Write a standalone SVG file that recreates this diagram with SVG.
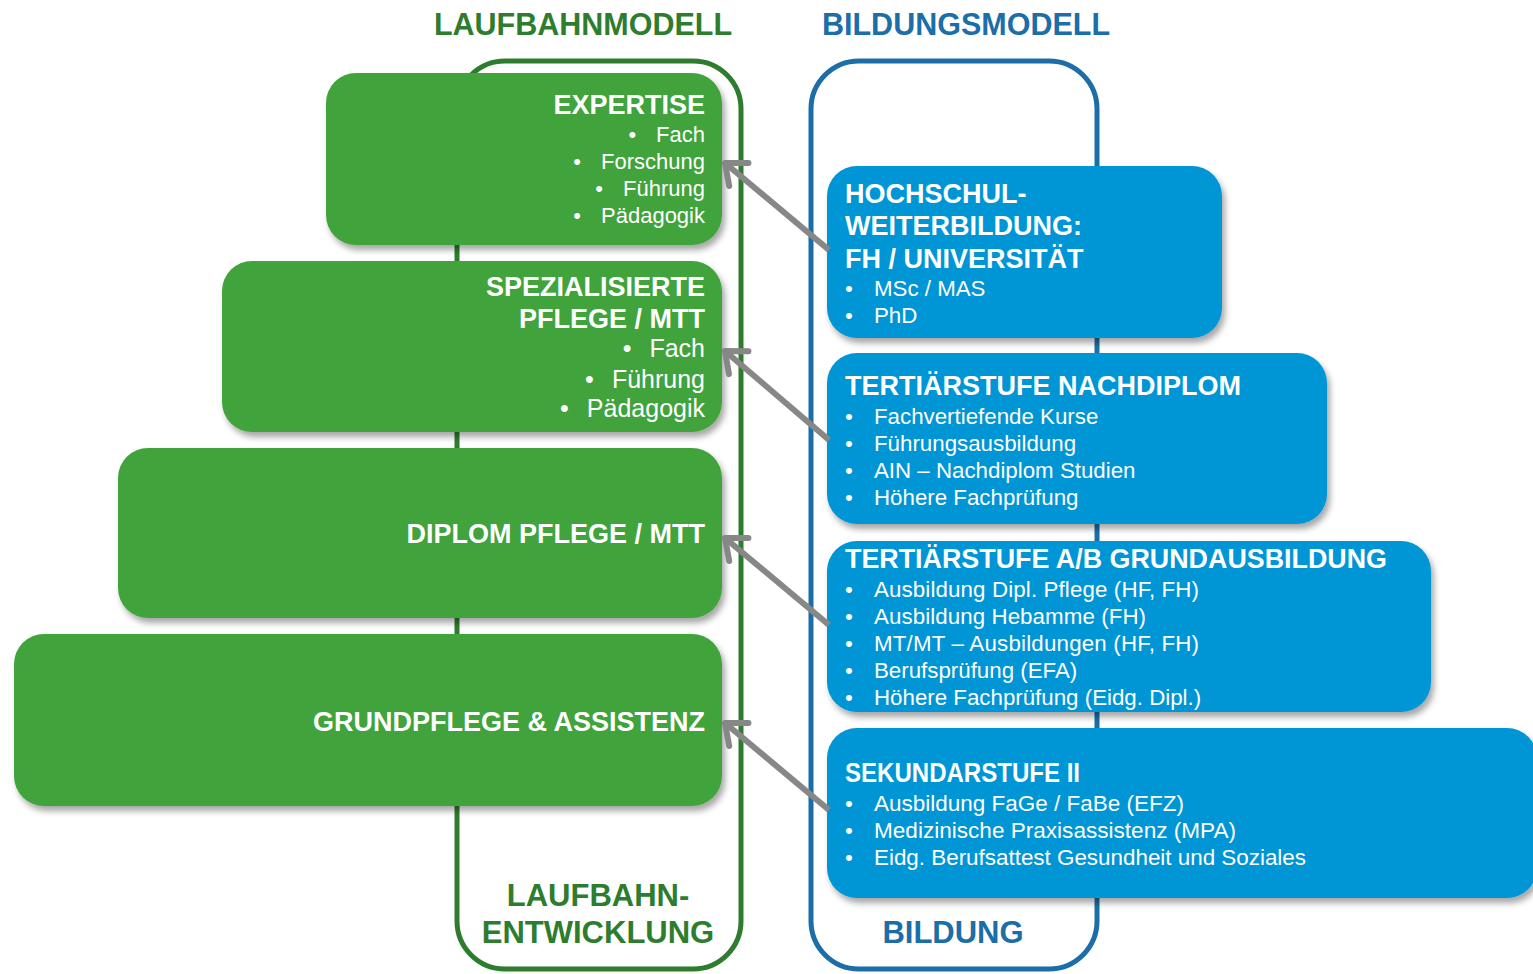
<svg xmlns="http://www.w3.org/2000/svg" width="1533" height="974" viewBox="0 0 1533 974">
<defs>
<filter id="sh" x="-10%" y="-10%" width="130%" height="140%">
<feDropShadow dx="3" dy="5" stdDeviation="3" flood-color="#000" flood-opacity="0.35"/>
</filter>
<marker id="ah" markerUnits="userSpaceOnUse" markerWidth="40" markerHeight="40" refX="30" refY="20" orient="auto" viewBox="0 0 40 40">
<path d="M12,5 L30,20 L12,35" fill="none" stroke="#878787" stroke-width="6" stroke-linecap="round" stroke-linejoin="round"/>
</marker>
</defs>
<style>
.t{font-family:"Liberation Sans",Arial,sans-serif}
.b{font-weight:bold}
.gt{fill:#2E7D2E}
.bt{fill:#1B6EA8}
.w{fill:#fff}
.gb{fill:#41A33A;filter:url(#sh)}
.bb{fill:#0095D5;filter:url(#sh)}
.h{font-size:27px;font-weight:bold}
.i{font-size:22px}
.j{font-size:22.3px}
.c{stroke:#878787;stroke-width:6;fill:none}
</style>
<rect width="1533" height="974" fill="#fff"/>
<g id="titles" class="t b" font-size="30.5" text-anchor="middle">
<text x="583" y="35" class="gt">LAUFBAHNMODELL</text>
<text x="966" y="35" class="bt">BILDUNGSMODELL</text>
</g>
<g id="frame-laufbahn">
<rect x="457" y="61" width="284" height="908" rx="48" fill="none" stroke="#2E7D2E" stroke-width="5"/>
<text class="t b gt" font-size="31" text-anchor="middle"><tspan x="598" y="906">LAUFBAHN-</tspan><tspan x="598" y="943">ENTWICKLUNG</tspan></text>
</g>
<g id="frame-bildung">
<rect x="811" y="61" width="286" height="908" rx="48" fill="none" stroke="#1B6EA8" stroke-width="5"/>
<text class="t b bt" font-size="31" text-anchor="middle" x="953" y="943">BILDUNG</text>
</g>
<g id="expertise">
<rect class="gb" x="326" y="73" width="396" height="172" rx="30"/>
<g class="t w" text-anchor="end">
<text class="h" x="705" y="114">EXPERTISE</text>
<text class="i" x="705" y="142">•<tspan dx="20">Fach</tspan></text>
<text class="i" x="705" y="169">•<tspan dx="20">Forschung</tspan></text>
<text class="i" x="705" y="196">•<tspan dx="20">Führung</tspan></text>
<text class="i" x="705" y="223">•<tspan dx="20">Pädagogik</tspan></text>
</g>
</g>
<g id="spezialisierte">
<rect class="gb" x="222" y="261" width="500" height="171" rx="30"/>
<g class="t w" text-anchor="end">
<text class="h" x="705" y="296">SPEZIALISIERTE</text>
<text class="h" x="705" y="328">PFLEGE / MTT</text>
<text x="705" y="357" font-size="25">•<tspan dx="18">Fach</tspan></text>
<text x="705" y="388" font-size="25">•<tspan dx="18">Führung</tspan></text>
<text x="705" y="417" font-size="25">•<tspan dx="18">Pädagogik</tspan></text>
</g>
</g>
<g id="diplom">
<rect class="gb" x="118" y="448" width="604" height="170" rx="30"/>
<text class="t w h" text-anchor="end" x="705" y="543">DIPLOM PFLEGE / MTT</text>
</g>
<g id="grundpflege">
<rect class="gb" x="14" y="634" width="708" height="172" rx="30"/>
<text class="t w h" text-anchor="end" x="705" y="731">GRUNDPFLEGE &amp; ASSISTENZ</text>
</g>
<g id="hochschul">
<rect class="bb" x="827" y="166" width="395" height="172" rx="30"/>
<g class="t w">
<text class="h" x="845" y="203">HOCHSCHUL-</text>
<text class="h" x="845" y="235">WEITERBILDUNG:</text>
<text class="h" x="845" y="268">FH / UNIVERSITÄT</text>
<text class="j" x="845" y="296">•<tspan x="874">MSc / MAS</tspan></text>
<text class="j" x="845" y="323">•<tspan x="874">PhD</tspan></text>
</g>
</g>
<g id="nachdiplom">
<rect class="bb" x="827" y="353" width="500" height="171" rx="30"/>
<g class="t w">
<text class="h" x="845" y="395">TERTIÄRSTUFE NACHDIPLOM</text>
<text class="j" x="845" y="424">•<tspan x="874">Fachvertiefende Kurse</tspan></text>
<text class="j" x="845" y="451">•<tspan x="874">Führungsausbildung</tspan></text>
<text class="j" x="845" y="478">•<tspan x="874">AIN – Nachdiplom Studien</tspan></text>
<text class="j" x="845" y="505">•<tspan x="874">Höhere Fachprüfung</tspan></text>
</g>
</g>
<g id="grundausbildung">
<rect class="bb" x="827" y="541" width="604" height="171" rx="30"/>
<g class="t w">
<text class="h" x="845" y="568" textLength="542" lengthAdjust="spacingAndGlyphs">TERTIÄRSTUFE A/B GRUNDAUSBILDUNG</text>
<text class="j" x="845" y="597">•<tspan x="874" textLength="325">Ausbildung Dipl. Pflege (HF, FH)</tspan></text>
<text class="j" x="845" y="624">•<tspan x="874" textLength="272">Ausbildung Hebamme (FH)</tspan></text>
<text class="j" x="845" y="651">•<tspan x="874" textLength="325">MT/MT – Ausbildungen (HF, FH)</tspan></text>
<text class="j" x="845" y="678">•<tspan x="874">Berufsprüfung (EFA)</tspan></text>
<text class="j" x="845" y="705">•<tspan x="874">Höhere Fachprüfung (Eidg. Dipl.)</tspan></text>
</g>
</g>
<g id="sekundarstufe">
<rect class="bb" x="827" y="728" width="710" height="170" rx="30"/>
<g class="t w">
<text class="h" x="845" y="782" textLength="235" lengthAdjust="spacingAndGlyphs">SEKUNDARSTUFE II</text>
<text class="j" x="845" y="811">•<tspan x="874" textLength="310" lengthAdjust="spacingAndGlyphs">Ausbildung  FaGe / FaBe (EFZ)</tspan></text>
<text class="j" x="845" y="838">•<tspan x="874" textLength="362" lengthAdjust="spacingAndGlyphs">Medizinische Praxisassistenz (MPA)</tspan></text>
<text class="j" x="845" y="865">•<tspan x="874" textLength="432" lengthAdjust="spacingAndGlyphs">Eidg. Berufsattest Gesundheit und  Soziales</tspan></text>
</g>
</g>
<g id="connectors" class="c">
<line x1="829" y1="250" x2="725" y2="163" marker-end="url(#ah)"/>
<line x1="829" y1="440" x2="725" y2="351" marker-end="url(#ah)"/>
<line x1="829" y1="625" x2="725" y2="538" marker-end="url(#ah)"/>
<line x1="829" y1="810" x2="725" y2="723" marker-end="url(#ah)"/>
</g>
</svg>
